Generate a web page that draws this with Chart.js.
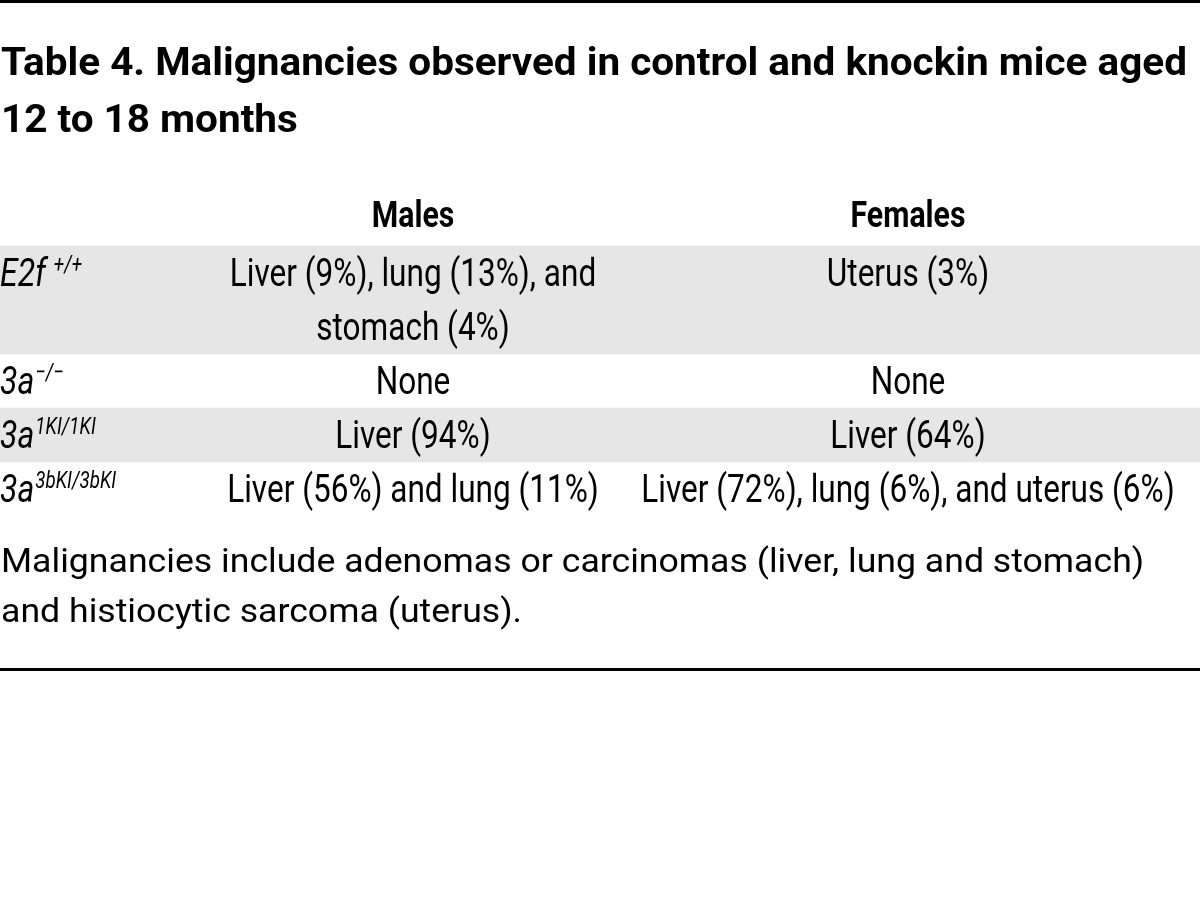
<!DOCTYPE html>
<html>
<head>
<meta charset="utf-8">
<script src="https://cdn.jsdelivr.net/npm/chart.js@4/dist/chart.umd.min.js"></script>
<style>
  html, body { margin: 0; padding: 0; background: #fff; }
  canvas { display: block; }
</style>
</head>
<body>
<canvas id="table-chart" width="1200" height="921"></canvas>
<script>
// Table content
const titleLines = ['Table 4. Malignancies observed in control and knockin mice aged', '12 to 18 months'];
const columns = ['Males', 'Females'];
const genotypes = ['E2f', '3a', '3a', '3a'];
const genotypeSups = ['+/+', '\u2212/\u2212', '1KI/1KI', '3bKI/3bKI'];
const males = [['Liver (9%), lung (13%), and', 'stomach (4%)'], ['None'], ['Liver (94%)'], ['Liver (56%) and lung (11%)']];
const females = [['Uterus (3%)'], ['None'], ['Liver (64%)'], ['Liver (72%), lung (6%), and uterus (6%)']];
const shadedRows = [true, false, true, false];
const footnoteLines = ['Malignancies include adenomas or carcinomas (liver, lung and stomach)', 'and histiocytic sarcoma (uterus).'];

// one y slot per printed line: header first, then the lines of each row
const slots = ['header'];
const slotRow = [-1];
const slotLine = [0];
genotypes.forEach((g, r) => {
    const n = Math.max(males[r].length, females[r].length);
    for (let i = 0; i < n; i++) {
        slots.push(g + genotypeSups[r] + ':' + i);
        slotRow.push(r);
        slotLine.push(i);
    }
});

// layout (in x scale units, 0..1200 = page width)
const colCenters = [413, 908];
const FONT = 'Roboto, "Open Sans", sans-serif';
const styles = {
    title:  { font: 'bold 38px ' + FONT, squeeze: 1.065 },
    header: { font: 'bold 36px ' + FONT, squeeze: 0.84 },
    body:   { font: '38px ' + FONT, squeeze: 0.83 },
    geno:   { font: 'italic 39px ' + FONT, squeeze: 0.82 },
    sup:    { font: 'italic 24px ' + FONT, squeeze: 0.78 },
    note:   { font: '33px ' + FONT, squeeze: 1.08 }
};

function drawText(ctx, str, x, y, style, align) {
    ctx.save();
    ctx.font = style.font;
    ctx.textAlign = align || 'left';
    ctx.textBaseline = 'alphabetic';
    ctx.translate(x, y);
    ctx.scale(style.squeeze, 1);
    ctx.fillText(str, 0, 0);
    const w = ctx.measureText(str).width * style.squeeze;
    ctx.restore();
    return w;
}

const tableText = {
    id: 'tableText',
    afterDatasetsDraw(chart) {
        const ctx = chart.ctx;
        const xs = chart.scales.x;
        const ys = chart.scales.y;
        const area = chart.chartArea;
        ctx.fillStyle = '#000';

        // rules
        ctx.fillRect(0, 0, chart.width, 3);
        ctx.fillRect(0, area.bottom + 152, chart.width, 3);

        // title
        titleLines.forEach((t, i) => {
            drawText(ctx, t, 1, area.top - 117 + i * 57, styles.title);
        });

        // column headers
        const hy = ys.getPixelForValue(0) + 8;
        columns.forEach((c, i) => {
            drawText(ctx, c, xs.getPixelForValue(colCenters[i]), hy, styles.header, 'center');
        });

        // rows
        slots.forEach((s, k) => {
            const r = slotRow[k];
            if (r < 0) return;
            const line = slotLine[k];
            const y = ys.getPixelForValue(k) + 13;
            if (line === 0) {
                let w = drawText(ctx, genotypes[r], 0, y, styles.geno);
                if (r === 0) w += 7;
                drawText(ctx, genotypeSups[r], w + 1, y - 14, styles.sup);
            }
            [males, females].forEach((col, c) => {
                if (col[r][line]) {
                    drawText(ctx, col[r][line], xs.getPixelForValue(colCenters[c]), y, styles.body, 'center');
                }
            });
        });

        // footnote
        footnoteLines.forEach((t, i) => {
            drawText(ctx, t, 1, area.bottom + 56 + i * 50, styles.note);
        });
    }
};

new Chart(document.getElementById('table-chart'), {
    type: 'bar',
    data: {
        labels: slots,
        datasets: [{
            label: 'shaded rows',
            data: slots.map((s, k) => (slotRow[k] >= 0 && shadedRows[slotRow[k]]) ? [0, 1200] : null),
            backgroundColor: '#e6e6e6',
            borderWidth: 0,
            barPercentage: 1,
            categoryPercentage: 1
        }]
    },
    options: {
        indexAxis: 'y',
        responsive: false,
        animation: false,
        devicePixelRatio: 1,
        layout: { padding: { top: 192, bottom: 405, left: 0, right: 0 } },
        plugins: { legend: { display: false }, tooltip: { enabled: false }, title: { display: false } },
        scales: {
            x: { type: 'linear', min: 0, max: 1200, display: false },
            y: { type: 'category', display: false, offset: true }
        }
    },
    plugins: [tableText]
});
</script>
</body>
</html>
